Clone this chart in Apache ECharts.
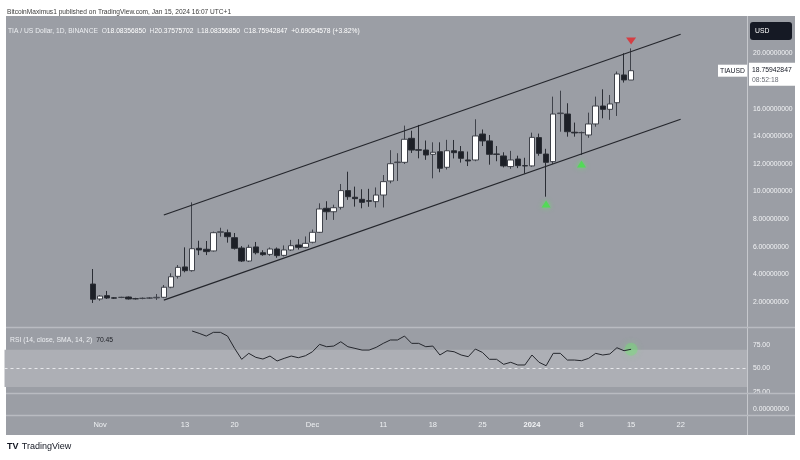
<!DOCTYPE html>
<html><head><meta charset="utf-8">
<script src="https://cdn.jsdelivr.net/npm/echarts@6/dist/echarts.min.js"></script>
<style>html,body{margin:0;padding:0;background:#fff;}#c{width:800px;height:460px;}</style>
</head><body><div id="c"></div><script>
// ---- data ----
const axisStart = '2023-10-19';
const axisEnd = '2024-01-31';
const candleStart = '2023-10-31';
const open  = [3.30,2.22,2.46,2.30,2.33,2.36,2.24,2.26,2.28,2.30,2.34,3.07,3.86,4.54,4.27,5.89,5.82,5.70,7.05,7.02,6.66,5.91,4.97,5.99,5.57,5.45,5.84,5.38,5.77,6.13,5.96,6.33,7.05,8.79,8.54,8.86,10.07,9.59,9.44,9.34,9.27,9.75,10.77,12.10,12.12,13.86,13.03,13.01,12.70,12.89,11.76,12.96,12.89,12.29,12.29,14.17,13.67,12.72,12.58,11.81,12.36,11.88,11.86,13.91,12.72,12.17,15.65,15.62,14.30,14.27,14.10,14.90,16.20,15.96,16.44,18.45,18.08356850];
const close = [2.20,2.43,2.29,2.28,2.34,2.22,2.23,2.27,2.29,2.34,3.07,3.83,4.51,4.27,5.86,5.77,5.65,7.02,7.09,6.73,5.89,4.97,5.96,5.57,5.43,5.84,5.36,5.77,6.08,5.96,6.25,7.05,8.74,8.54,8.83,10.07,9.63,9.49,9.22,9.30,9.75,10.72,12.02,12.14,13.79,13.01,13.00,12.65,12.85,11.69,12.96,12.82,12.41,12.22,14.03,13.67,12.70,12.70,11.86,12.29,11.88,11.86,13.93,12.77,12.12,15.62,15.69,14.34,14.25,14.27,14.90,16.20,15.96,16.35,18.52,18.09,18.75942847];
const low   = [1.93,2.09,2.22,2.22,2.28,2.18,2.18,2.20,2.22,2.15,2.28,3.00,3.70,4.15,4.20,5.40,5.40,5.65,6.73,6.30,5.80,4.90,4.90,5.45,5.35,5.35,5.20,5.30,5.70,5.80,5.90,6.25,7.00,7.95,7.95,8.70,9.40,8.91,8.79,8.90,8.85,8.85,10.60,10.77,12.00,12.80,12.41,12.30,10.96,11.40,11.60,12.40,12.10,11.85,12.20,13.30,11.95,12.20,11.75,11.65,11.70,11.30,11.80,12.60,9.63,12.00,14.34,13.98,13.98,12.65,13.90,14.70,15.31,15.20,15.48,17.90,18.08356850];
const high  = [4.39,2.50,2.80,2.36,2.38,2.40,2.30,2.33,2.36,2.58,3.23,4.08,4.68,5.96,9.22,6.44,6.42,7.10,7.38,7.25,7.00,6.05,6.15,6.35,5.75,5.95,5.95,6.10,6.50,6.55,6.75,7.25,9.15,9.30,9.05,10.55,11.44,10.36,10.17,10.20,10.30,11.20,13.00,12.78,14.78,14.41,14.83,13.70,13.57,13.57,13.75,13.74,13.30,12.90,15.24,14.50,14.10,13.30,12.85,12.95,12.60,12.45,14.27,14.20,13.10,16.88,17.31,16.40,15.00,14.35,15.72,16.88,17.41,17.00,18.70,20.02,20.37575702];
const rsiStart = '2023-11-14';
const rsi = [90.0,87.5,84.6,88.6,88.6,84.6,71.4,59.7,66.1,61.8,60.0,63.2,57.9,60.7,63.2,61.4,63.5,67.8,75.7,73.2,73.9,78.5,73.2,71.4,69.6,69.6,72.5,76.8,80.4,80.4,84.6,76.8,76.8,73.2,73.9,64.3,68.9,67.8,64.3,62.5,70.7,67.1,59.7,59.7,54.3,56.5,53.6,53.6,64.3,56.5,52.8,66.1,66.1,58.9,58.9,58.2,60.7,66.1,64.3,65.4,72.1,68.9,70.45];
const priceTicks = [2,4,6,8,10,12,14,16,20];
const rsiTicks = [25,50,75];
const timeTickDates  = ['2023-11-01','2023-11-13','2023-11-20','2023-12-01','2023-12-11','2023-12-18','2023-12-25','2024-01-01','2024-01-08','2024-01-15','2024-01-22'];
const timeTickLabels = ['Nov','13','20','Dec','11','18','25','2024','8','15','22'];
const channelUpper = [['2023-11-10', 8.30], ['2024-01-22', 21.40]];
const channelLower = [['2023-11-10', 2.14], ['2024-01-22', 15.24]];
const buySignals  = [['2024-01-03', 9.10], ['2024-01-08', 12.0]];
const sellSignals = [['2024-01-15', 20.91]];

// ---- build ----
function iso(d){ return d.toISOString().slice(0,10); }
function dayRange(from, n){ const out=[]; const d=new Date(from+'T00:00:00Z'); for(let i=0;i<n;i++){ out.push(iso(d)); d.setUTCDate(d.getUTCDate()+1);} return out; }
function daysBetween(a,b){ return Math.round((new Date(b+'T00:00:00Z')-new Date(a+'T00:00:00Z'))/864e5); }
const categories = dayRange(axisStart, daysBetween(axisStart, axisEnd)+1);
const candleDates = dayRange(candleStart, open.length);
const candleData = candleDates.map((d,i)=>[d, open[i], close[i], low[i], high[i]]);
const rsiDates = dayRange(rsiStart, rsi.length);
const rsiData = rsiDates.map((d,i)=>[d, rsi[i]]);
const tickMap = {}; timeTickDates.forEach((d,i)=>tickMap[d]=timeTickLabels[i]);

const FONT = '"Liberation Sans",Arial,sans-serif';
const BG = '#9b9ea5';
const chart = echarts.init(document.getElementById('c'), null, {renderer:'canvas'});
const gridL = 4.5, gridW = 743.4;
const option = {
  animation:false,
  backgroundColor:'#ffffff',
  textStyle:{fontFamily:FONT},
  grid:[
    {left:gridL, width:gridW, top:17, height:312.6},
    {left:gridL, width:gridW, top:321.7, height:93.3}
  ],
  xAxis:[
    {type:'category', gridIndex:0, data:categories, boundaryGap:true, axisLine:{show:false}, axisTick:{show:false}, axisLabel:{show:false}, splitLine:{show:false}},
    {type:'category', gridIndex:1, data:categories, boundaryGap:true, axisLine:{show:false}, axisTick:{show:false}, splitLine:{show:false},
     axisLabel:{show:true, interval:(i,v)=>v in tickMap, formatter:(v)=> v==='2024-01-01' ? '{b|'+tickMap[v]+'}' : (tickMap[v]||''), color:'#eef0f2', fontSize:7.5, margin:6, fontFamily:FONT,
       rich:{b:{fontWeight:'bold', color:'#f4f5f7', fontSize:7.5, fontFamily:FONT}}}}
  ],
  yAxis:[
    {type:'value', gridIndex:0, position:'right', min:0, max:22.65, interval:2, axisLine:{show:false}, axisTick:{show:false}, splitLine:{show:false},
     axisLabel:{margin:5, color:'#f2f3f5', fontSize:6.8, fontFamily:FONT, formatter:(v)=> priceTicks.includes(v) ? v.toFixed(8) : ''}},
    {type:'value', gridIndex:1, position:'right', min:0, max:100, interval:25, axisLine:{show:false}, axisTick:{show:false}, splitLine:{show:false},
     axisLabel:{margin:5, color:'#f2f3f5', fontSize:6.8, fontFamily:FONT, formatter:(v)=> rsiTicks.includes(v) ? v.toFixed(2) : ''}}
  ],
  series:[
    {type:'candlestick', xAxisIndex:0, yAxisIndex:0, data:candleData, encode:{x:0, y:[1,2,3,4]}, barWidth:6,
     itemStyle:{color:'#ffffff', color0:'#1d2027', borderColor:'#3f424a', borderColor0:'#2a2d34', borderWidth:1},
     markLine:{silent:true, symbol:['none','none'], label:{show:false}, lineStyle:{color:'#24262c', width:1.2, type:'solid'},
       data:[[{coord:channelUpper[0]},{coord:channelUpper[1]}],[{coord:channelLower[0]},{coord:channelLower[1]}]]}},
    {type:'scatter', xAxisIndex:0, yAxisIndex:0, data:buySignals, symbol:'triangle', symbolSize:[9,7],
     itemStyle:{color:'#46e24a', shadowBlur:5, shadowColor:'rgba(80,255,80,0.8)'}, z:5},
    {type:'scatter', xAxisIndex:0, yAxisIndex:0, data:sellSignals, symbol:'triangle', symbolRotate:180, symbolSize:[10,7],
     itemStyle:{color:'#e3262b'}, z:5},
    {type:'line', xAxisIndex:1, yAxisIndex:1, data:rsiData, showSymbol:false, lineStyle:{color:'#25272d', width:1}, z:4,
     markArea:{silent:true, itemStyle:{color:'#adafb5'}, data:[[{yAxis:30},{yAxis:70}]]},
     markLine:{silent:true, symbol:['none','none'], label:{show:false}, lineStyle:{color:'#e6e7ea', width:1, type:[3,3]}, data:[{yAxis:50}]}},
    {type:'scatter', xAxisIndex:1, yAxisIndex:1, data:[rsiData[rsiData.length-1]], symbolSize:13,
     itemStyle:{color:'rgba(110,230,110,0.45)', shadowBlur:6, shadowColor:'rgba(110,240,110,0.7)'}, z:3}
  ]
};
chart.setOption(option);

const lastClose = close[close.length-1];
const py = chart.convertToPixel({yAxisIndex:0}, lastClose);
const F7 = '6.8px '+FONT;
chart.setOption({graphic:[
  {type:'rect', z:-10, silent:true, shape:{x:6,y:16,width:789,height:419}, style:{fill:BG}},
  {type:'line', z:50, silent:true, shape:{x1:747.5,y1:16,x2:747.5,y2:435}, style:{stroke:'#c6c8cd', lineWidth:1}},
  {type:'line', z:50, silent:true, shape:{x1:6,y1:327.5,x2:795,y2:327.5}, style:{stroke:'#b9bbc1', lineWidth:1.5}},
  {type:'line', z:50, silent:true, shape:{x1:6,y1:393.5,x2:795,y2:393.5}, style:{stroke:'#b9bbc1', lineWidth:1.5}},
  {type:'line', z:50, silent:true, shape:{x1:6,y1:415.5,x2:795,y2:415.5}, style:{stroke:'#b9bbc1', lineWidth:1.5}},
  {type:'text', z:50, silent:true, x:7, y:12, style:{text:'BitcoinMaximus1 published on TradingView.com, Jan 15, 2024 16:07 UTC+1', fill:'#3c3c3c', font:'6.6px '+FONT, verticalAlign:'middle'}},
  {type:'text', z:50, silent:true, x:8, y:31, style:{
     text:'{l|TIA / US Dollar, 1D, BINANCE}  {l|O}{v|18.08356850}  {l|H}{v|20.37575702}  {l|L}{v|18.08356850}  {l|C}{v|18.75942847}  {v|+0.69054578 (+3.82%)}',
     verticalAlign:'middle', font:'6.7px '+FONT,
     rich:{l:{fill:'#eceef1', font:'6.7px '+FONT}, v:{fill:'#ffffff', font:'6.7px '+FONT}}}},
  {type:'text', z:50, silent:true, x:10, y:340, style:{
     text:'{l|RSI (14, close, SMA, 14, 2)}  {v|70.45}', verticalAlign:'middle', font:F7,
     rich:{l:{fill:'#eceef1', font:F7}, v:{fill:'#1e2026', font:F7}}}},
  {type:'rect', z:50, silent:true, shape:{x:750,y:22,width:42,height:18,r:3}, style:{fill:'#151924'}},
  {type:'text', z:51, silent:true, x:755, y:31, style:{text:'USD', fill:'#ffffff', font:F7, verticalAlign:'middle'}},
  {type:'rect', z:50, silent:true, shape:{x:749,y:py-8,width:46,height:23}, style:{fill:'#ffffff'}},
  {type:'text', z:51, silent:true, x:752, y:py-1, style:{text:lastClose.toFixed(8), fill:'#131722', font:F7, verticalAlign:'middle'}},
  {type:'text', z:51, silent:true, x:752, y:py+9, style:{text:'08:52:18', fill:'#6a6d75', font:F7, verticalAlign:'middle'}},
  {type:'rect', z:50, silent:true, shape:{x:718,y:py-6,width:29,height:12}, style:{fill:'#ffffff'}},
  {type:'text', z:51, silent:true, x:720, y:py, style:{text:'TIAUSD', fill:'#131722', font:F7, verticalAlign:'middle'}},
  {type:'text', z:51, silent:true, x:753, y:409, style:{text:(0).toFixed(8), fill:'#f2f3f5', font:F7, verticalAlign:'middle'}},
  {type:'text', z:51, silent:true, x:7, y:447, style:{text:'{t|TV} {n|TradingView}', verticalAlign:'middle',
     rich:{t:{fill:'#131722', font:'bold 9px '+FONT}, n:{fill:'#131722', font:'9px '+FONT}}}}
]});
</script></body></html>
